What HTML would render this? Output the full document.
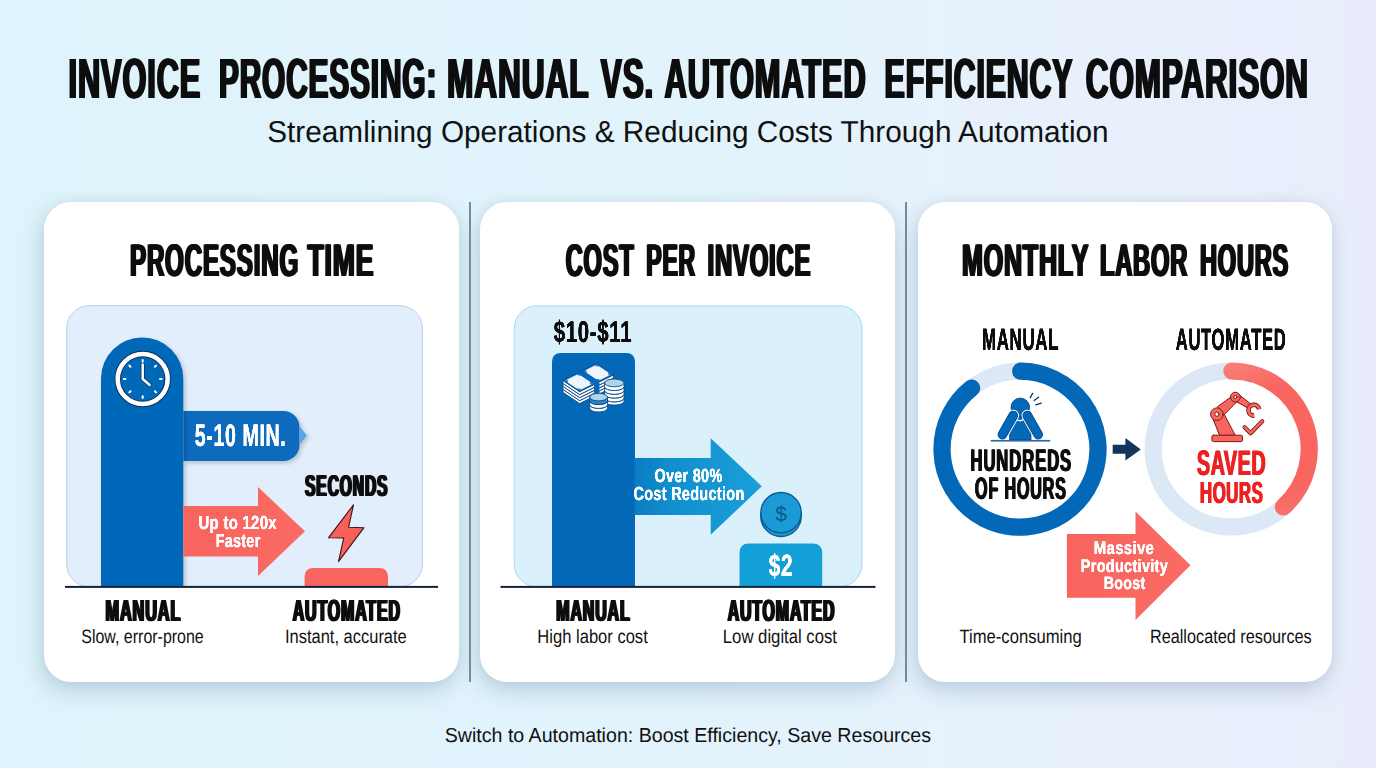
<!DOCTYPE html>
<html lang="en"><head><meta charset="utf-8"><title>Invoice Processing: Manual vs. Automated Efficiency Comparison</title>
<style>
html,body{margin:0;padding:0;}
body{width:1376px;height:768px;overflow:hidden;position:relative;font-family:"Liberation Sans",sans-serif;
background:linear-gradient(90deg,#def3fb 0%,#e2f3fc 50%,#e7f1fc 75%,#e9edfb 100%);}
.card{position:absolute;top:202px;height:480px;background:#fff;border-radius:27px;
box-shadow:-2px 9px 22px rgba(105,140,165,.33), 0 0 8px rgba(105,140,165,.10);}
.div{position:absolute;top:202px;height:480px;width:1.4px;background:#718b9f;}
svg{position:absolute;left:0;top:0;}
svg text{font-family:"Liberation Sans",sans-serif;text-rendering:geometricPrecision;}
</style></head><body>
<div class="card" style="left:44px;width:414.5px"></div>
<div class="card" style="left:480.4px;width:414.8px"></div>
<div class="card" style="left:917.5px;width:414.5px"></div>
<div class="div" style="left:469.2px"></div>
<div class="div" style="left:905.4px"></div>
<svg width="1376" height="768" viewBox="0 0 1376 768">
<clipPath id="c1"><rect x="0" y="0" width="1376" height="586.5"/></clipPath>
<defs><filter id="fat25" x="-5%" y="-10%" width="110%" height="120%"><feOffset dx="-0.25" result="a"/><feOffset in="SourceGraphic" dx="0.25" result="b"/><feMerge><feMergeNode in="a"/><feMergeNode in="b"/><feMergeNode in="SourceGraphic"/></feMerge></filter><filter id="fat35" x="-5%" y="-10%" width="110%" height="120%"><feOffset dx="-0.35" result="a"/><feOffset in="SourceGraphic" dx="0.35" result="b"/><feMerge><feMergeNode in="a"/><feMergeNode in="b"/><feMergeNode in="SourceGraphic"/></feMerge></filter><filter id="fat42" x="-5%" y="-10%" width="110%" height="120%"><feOffset dx="-0.42" result="a"/><feOffset in="SourceGraphic" dx="0.42" result="b"/><feMerge><feMergeNode in="a"/><feMergeNode in="b"/><feMergeNode in="SourceGraphic"/></feMerge></filter><filter id="fat50" x="-5%" y="-10%" width="110%" height="120%"><feOffset dx="-0.5" result="a"/><feOffset in="SourceGraphic" dx="0.5" result="b"/><feMerge><feMergeNode in="a"/><feMergeNode in="b"/><feMergeNode in="SourceGraphic"/></feMerge></filter><filter id="fat55" x="-5%" y="-10%" width="110%" height="120%"><feOffset dx="-0.55" result="a"/><feOffset in="SourceGraphic" dx="0.55" result="b"/><feMerge><feMergeNode in="a"/><feMergeNode in="b"/><feMergeNode in="SourceGraphic"/></feMerge></filter><filter id="fat95" x="-5%" y="-10%" width="110%" height="120%"><feOffset dx="-0.95" result="a"/><feOffset in="SourceGraphic" dx="0.95" result="b"/><feMerge><feMergeNode in="a"/><feMergeNode in="b"/><feMergeNode in="SourceGraphic"/></feMerge></filter><filter id="fat140" x="-5%" y="-10%" width="110%" height="120%"><feOffset dx="-1.4" result="a"/><feOffset in="SourceGraphic" dx="1.4" result="b"/><feMerge><feMergeNode in="a"/><feMergeNode in="b"/><feMergeNode in="SourceGraphic"/></feMerge></filter></defs>
<defs>
<linearGradient id="gBlue" x1="0" y1="0" x2="1" y2="0"><stop offset="0" stop-color="#0c6bbb"/><stop offset="1" stop-color="#1170c0"/></linearGradient>
<linearGradient id="gArrowB" x1="0" y1="0" x2="1" y2="0"><stop offset="0" stop-color="#0a7cc3"/><stop offset="0.3" stop-color="#128fce"/><stop offset="1" stop-color="#1a9fda"/></linearGradient>
<linearGradient id="gArc" gradientUnits="userSpaceOnUse" x1="1231" y1="362" x2="1300" y2="520"><stop offset="0" stop-color="#fa7f79"/><stop offset="0.25" stop-color="#f8665f"/><stop offset="0.8" stop-color="#f8665f"/><stop offset="1" stop-color="#fa7670"/></linearGradient>
<linearGradient id="gRed" x1="0" y1="0" x2="1" y2="0"><stop offset="0" stop-color="#f8645e"/><stop offset="1" stop-color="#fb6a64"/></linearGradient>
<filter id="sh" x="-20%" y="-20%" width="150%" height="150%"><feGaussianBlur in="SourceAlpha" stdDeviation="2.2"/><feOffset dx="1.5" dy="2"/><feComponentTransfer><feFuncA type="linear" slope="0.2"/></feComponentTransfer><feMerge><feMergeNode/><feMergeNode in="SourceGraphic"/></feMerge></filter>
</defs>
<text x="68.50" y="98.0" font-size="56.69" font-weight="bold" fill="#0a0a0a" textLength="132.62" lengthAdjust="spacingAndGlyphs" filter="url(#fat140)" letter-spacing="1.59">INVOICE</text>
<text x="218.91" y="98.0" font-size="56.69" font-weight="bold" fill="#0a0a0a" textLength="218.32" lengthAdjust="spacingAndGlyphs" filter="url(#fat140)" letter-spacing="1.64">PROCESSING:</text>
<text x="446.95" y="98.0" font-size="56.69" font-weight="bold" fill="#0a0a0a" textLength="142.47" lengthAdjust="spacingAndGlyphs" filter="url(#fat140)" letter-spacing="1.54">MANUAL</text>
<text x="600.78" y="98.0" font-size="56.69" font-weight="bold" fill="#0a0a0a" textLength="53.41" lengthAdjust="spacingAndGlyphs" filter="url(#fat140)" letter-spacing="1.60">VS.</text>
<text x="664.59" y="98.0" font-size="56.69" font-weight="bold" fill="#0a0a0a" textLength="201.99" lengthAdjust="spacingAndGlyphs" filter="url(#fat140)" letter-spacing="1.57">AUTOMATED</text>
<text x="884.59" y="98.0" font-size="56.69" font-weight="bold" fill="#0a0a0a" textLength="188.82" lengthAdjust="spacingAndGlyphs" filter="url(#fat140)" letter-spacing="1.60">EFFICIENCY</text>
<text x="1085.81" y="98.0" font-size="56.69" font-weight="bold" fill="#0a0a0a" textLength="223.16" lengthAdjust="spacingAndGlyphs" filter="url(#fat140)" letter-spacing="1.54">COMPARISON</text>
<text x="267.26" y="142.0" font-size="30.23" font-weight="normal" fill="#111" textLength="841.35" lengthAdjust="spacingAndGlyphs">Streamlining Operations &amp; Reducing Costs Through Automation</text>
<text x="129.98" y="276.0" font-size="45.93" font-weight="bold" fill="#0a0a0a" textLength="169.03" lengthAdjust="spacingAndGlyphs" filter="url(#fat95)" letter-spacing="1.47">PROCESSING</text>
<text x="307.56" y="276.0" font-size="45.93" font-weight="bold" fill="#0a0a0a" textLength="66.59" lengthAdjust="spacingAndGlyphs" filter="url(#fat95)" letter-spacing="1.33">TIME</text>
<text x="565.77" y="276.0" font-size="45.93" font-weight="bold" fill="#0a0a0a" textLength="68.75" lengthAdjust="spacingAndGlyphs" filter="url(#fat95)" letter-spacing="1.50">COST</text>
<text x="646.32" y="276.0" font-size="45.93" font-weight="bold" fill="#0a0a0a" textLength="49.70" lengthAdjust="spacingAndGlyphs" filter="url(#fat95)" letter-spacing="1.56">PER</text>
<text x="707.53" y="276.0" font-size="45.93" font-weight="bold" fill="#0a0a0a" textLength="103.73" lengthAdjust="spacingAndGlyphs" filter="url(#fat95)" letter-spacing="1.50">INVOICE</text>
<text x="962.04" y="276.0" font-size="45.93" font-weight="bold" fill="#0a0a0a" textLength="127.10" lengthAdjust="spacingAndGlyphs" filter="url(#fat95)" letter-spacing="1.41">MONTHLY</text>
<text x="1099.88" y="276.0" font-size="45.93" font-weight="bold" fill="#0a0a0a" textLength="88.16" lengthAdjust="spacingAndGlyphs" filter="url(#fat95)" letter-spacing="1.50">LABOR</text>
<text x="1199.95" y="276.0" font-size="45.93" font-weight="bold" fill="#0a0a0a" textLength="89.18" lengthAdjust="spacingAndGlyphs" filter="url(#fat95)" letter-spacing="1.52">HOURS</text>
<rect x="66.7" y="305.7" width="355.8" height="281" rx="22.5" fill="#e2eefb" stroke="#b2cbe7" stroke-width="0.9"/>
<g filter="url(#sh)">
<path d="M183.3 411 H283.5 A16 16 0 0 1 299.5 427 V445 A16 16 0 0 1 283.5 461 H183.3 Z" fill="#0a6bbc"/>
<path d="M299 425.5 L306.8 435.5 L299 445.5 Z" fill="#5aa3de"/>
</g>
<g clip-path="url(#c1)"><path d="M101 600 V378.6 A41.15 41.15 0 0 1 183.3 378.6 V600 Z" fill="#0468b9" filter="url(#sh)"/></g>
<g transform="translate(142.7 379)">
<circle r="25" fill="none" stroke="#0a2f5c" stroke-width="6.4"/>
<circle r="25" fill="none" stroke="#fff" stroke-width="4.6"/>
<path d="M0 -14.5 V0 L7 6" fill="none" stroke="#0a2f5c" stroke-width="4" stroke-linecap="round" stroke-linejoin="round"/>
<path d="M0 -14.5 V0 L7 6" fill="none" stroke="#fff" stroke-width="2.5" stroke-linecap="round" stroke-linejoin="round"/>
<line x1="0.00" y1="-17.30" x2="0.00" y2="-18.90" stroke="#fff" stroke-width="2" stroke-linecap="round"/>
<line x1="12.23" y1="-12.23" x2="13.36" y2="-13.36" stroke="#fff" stroke-width="2" stroke-linecap="round"/>
<line x1="17.30" y1="-0.00" x2="18.90" y2="-0.00" stroke="#fff" stroke-width="2" stroke-linecap="round"/>
<line x1="12.23" y1="12.23" x2="13.36" y2="13.36" stroke="#fff" stroke-width="2" stroke-linecap="round"/>
<line x1="0.00" y1="17.30" x2="0.00" y2="18.90" stroke="#fff" stroke-width="2" stroke-linecap="round"/>
<line x1="-12.23" y1="12.23" x2="-13.36" y2="13.36" stroke="#fff" stroke-width="2" stroke-linecap="round"/>
<line x1="-17.30" y1="0.00" x2="-18.90" y2="0.00" stroke="#fff" stroke-width="2" stroke-linecap="round"/>
<line x1="-12.23" y1="-12.23" x2="-13.36" y2="-13.36" stroke="#fff" stroke-width="2" stroke-linecap="round"/>
</g>
<text x="194.85" y="446.0" font-size="31.10" font-weight="bold" fill="#fff" textLength="91.36" lengthAdjust="spacingAndGlyphs" filter="url(#fat35)" letter-spacing="0.90">5-10 MIN.</text>
<path d="M183.3 506 H258 V487 L305 531.3 L258 576 V556.5 H183.3 Z" fill="url(#gRed)"/>
<text x="198.56" y="529.0" font-size="18.90" font-weight="bold" fill="#fff" textLength="78.26" lengthAdjust="spacingAndGlyphs" filter="url(#fat25)" letter-spacing="0.39">Up to 120x</text>
<text x="215.64" y="547.0" font-size="18.75" font-weight="bold" fill="#fff" textLength="44.91" lengthAdjust="spacingAndGlyphs" filter="url(#fat25)" letter-spacing="0.40">Faster</text>
<text x="305.07" y="496.0" font-size="30.23" font-weight="bold" fill="#0a0a0a" textLength="83.27" lengthAdjust="spacingAndGlyphs" filter="url(#fat55)" letter-spacing="1.71">SECONDS</text>
<path d="M353.5 504.8 L348.6 527.2 L364 527.7 L338.5 561.6 L343.7 538 L328.4 537.8 Z" fill="#f8605a" stroke="#3a1414" stroke-width="1.1" stroke-linejoin="round"/>
<path d="M304.6 586.5 V577 Q304.6 568 313.6 568 H379 Q388 568 388 577 V586.5 Z" fill="#f8655f"/>
<rect x="65" y="585.9" width="373" height="2" fill="#12243d"/>
<text x="105.54" y="621.0" font-size="30.67" font-weight="bold" fill="#0a0a0a" textLength="75.78" lengthAdjust="spacingAndGlyphs" filter="url(#fat55)" letter-spacing="1.67">MANUAL</text>
<text x="292.63" y="621.0" font-size="30.67" font-weight="bold" fill="#0a0a0a" textLength="108.26" lengthAdjust="spacingAndGlyphs" filter="url(#fat55)" letter-spacing="1.70">AUTOMATED</text>
<text x="81.28" y="643.0" font-size="19.33" font-weight="normal" fill="#111" textLength="122.48" lengthAdjust="spacingAndGlyphs">Slow, error-prone</text>
<text x="284.91" y="643.0" font-size="19.33" font-weight="normal" fill="#111" textLength="121.89" lengthAdjust="spacingAndGlyphs">Instant, accurate</text>
<rect x="514.2" y="305.9" width="347.8" height="280.8" rx="22.5" fill="#daf1fb" stroke="#a3d4ea" stroke-width="0.9"/>
<text x="553.71" y="342.0" font-size="29.94" font-weight="bold" fill="#0a0a0a" textLength="78.55" lengthAdjust="spacingAndGlyphs" filter="url(#fat42)" letter-spacing="0.99">$10-$11</text>
<path d="M552 586.5 V362 Q552 353 561 353 H626 Q635 353 635 362 V586.5 Z" fill="#0468b9"/>
<path d="M634.5 458 H710.7 V438.3 L761.8 486.3 L710.7 534.8 V515 H634.5 Z" fill="url(#gArrowB)"/>
<text x="654.49" y="482.0" font-size="19.04" font-weight="bold" fill="#fff" textLength="68.05" lengthAdjust="spacingAndGlyphs" filter="url(#fat25)" letter-spacing="0.40">Over 80%</text>
<text x="633.46" y="500.0" font-size="18.90" font-weight="bold" fill="#fff" textLength="111.11" lengthAdjust="spacingAndGlyphs" filter="url(#fat25)" letter-spacing="0.40">Cost Reduction</text>
<path d="M739.5 586.5 V553 Q739.5 543.4 749 543.4 H812.7 Q822.2 543.4 822.2 553 V586.5 Z" fill="#12a0d7"/>
<text x="768.78" y="576.0" font-size="30.81" font-weight="bold" fill="#fff" textLength="24.48" lengthAdjust="spacingAndGlyphs" filter="url(#fat42)" letter-spacing="1.06">$2</text>
<g stroke="#0b5a8f" stroke-width="1.3" fill="#1c9ad6">
<path d="M760.8 512.7 V516.5 A20.2 20 0 0 0 801.2 516.5 V512.7 Z"/>
<circle cx="781" cy="512.7" r="20.2"/>
</g>
<text x="781" y="520.6" font-size="21" text-anchor="middle" fill="#0b5a8f" font-weight="normal">$</text>
<rect x="500.5" y="585.9" width="375" height="2" fill="#12243d"/>
<text x="556.24" y="621.0" font-size="30.67" font-weight="bold" fill="#0a0a0a" textLength="74.34" lengthAdjust="spacingAndGlyphs" filter="url(#fat55)" letter-spacing="1.69">MANUAL</text>
<text x="727.63" y="621.0" font-size="30.67" font-weight="bold" fill="#0a0a0a" textLength="107.77" lengthAdjust="spacingAndGlyphs" filter="url(#fat55)" letter-spacing="1.71">AUTOMATED</text>
<text x="537.36" y="643.0" font-size="19.33" font-weight="normal" fill="#111" textLength="110.39" lengthAdjust="spacingAndGlyphs">High labor cost</text>
<text x="722.82" y="643.0" font-size="19.33" font-weight="normal" fill="#111" textLength="114.20" lengthAdjust="spacingAndGlyphs">Low digital cost</text>
<text x="981.92" y="350.0" font-size="30.81" font-weight="bold" fill="#0a0a0a" textLength="77.32" lengthAdjust="spacingAndGlyphs" filter="url(#fat42)" letter-spacing="1.25">MANUAL</text>
<text x="1175.69" y="350.0" font-size="30.81" font-weight="bold" fill="#0a0a0a" textLength="110.83" lengthAdjust="spacingAndGlyphs" filter="url(#fat42)" letter-spacing="1.27">AUTOMATED</text>
<circle cx="1020" cy="449.2" r="78" fill="none" stroke="#dde8f7" stroke-width="17.2"/>
<path d="M1020.68 371.20 A78 78 0 1 1 971.66 387.99" fill="none" stroke="#0468b9" stroke-width="17.2" stroke-linecap="round"/>
<circle cx="1231.2" cy="449" r="78" fill="none" stroke="#dde8f7" stroke-width="17.2"/>
<path d="M1231.88 371.00 A78 78 0 0 1 1283.39 506.97" fill="none" stroke="url(#gArc)" stroke-width="17.2" stroke-linecap="round"/>
<path d="M1112.7 444.8 H1125.4 V438.1 L1140.8 449.4 L1125.4 460.6 V453.8 H1112.7 Z" fill="#13355c"/>
<text x="970.00" y="471.0" font-size="31.10" font-weight="bold" fill="#0a0a0a" textLength="101.63" lengthAdjust="spacingAndGlyphs" filter="url(#fat50)" letter-spacing="1.50">HUNDREDS</text>
<text x="974.50" y="499.0" font-size="31.10" font-weight="bold" fill="#0a0a0a" textLength="91.96" lengthAdjust="spacingAndGlyphs" filter="url(#fat50)" letter-spacing="1.55">OF HOURS</text>
<text x="1196.54" y="475.0" font-size="35.32" font-weight="bold" fill="#ec2320" textLength="69.14" lengthAdjust="spacingAndGlyphs" filter="url(#fat50)" letter-spacing="0.92">SAVED</text>
<text x="1199.51" y="503.0" font-size="30.52" font-weight="bold" fill="#ec2320" textLength="63.49" lengthAdjust="spacingAndGlyphs" filter="url(#fat50)" letter-spacing="0.93">HOURS</text>
<path d="M1066.9 533.9 H1135.5 V511.5 L1190.5 565.2 L1135.5 619.9 V597.7 H1066.9 Z" fill="url(#gRed)"/>
<text x="1093.81" y="554.0" font-size="18.02" font-weight="bold" fill="#fff" textLength="60.43" lengthAdjust="spacingAndGlyphs" filter="url(#fat25)" letter-spacing="0.37">Massive</text>
<text x="1080.75" y="572.0" font-size="18.02" font-weight="bold" fill="#fff" textLength="87.30" lengthAdjust="spacingAndGlyphs" filter="url(#fat25)" letter-spacing="0.38">Productivity</text>
<text x="1103.75" y="589.0" font-size="17.73" font-weight="bold" fill="#fff" textLength="41.69" lengthAdjust="spacingAndGlyphs" filter="url(#fat25)" letter-spacing="0.38">Boost</text>
<text x="959.48" y="643.0" font-size="19.33" font-weight="normal" fill="#111" textLength="122.33" lengthAdjust="spacingAndGlyphs">Time-consuming</text>
<text x="1149.90" y="643.0" font-size="19.33" font-weight="normal" fill="#111" textLength="161.85" lengthAdjust="spacingAndGlyphs">Reallocated resources</text>
<text x="444.71" y="742.0" font-size="20.20" font-weight="normal" fill="#111" textLength="486.38" lengthAdjust="spacingAndGlyphs">Switch to Automation: Boost Efficiency, Save Resources</text>
<!-- money icon (panel 2) -->
<g stroke="#0a4a86" stroke-width="0.9" stroke-linejoin="round">
  <!-- bill stack sides (4 layers) -->
  <g fill="#fff">
    <path d="M563 389.4 L579.6 400.6 L613.4 384 L613.4 387 L579.6 403.6 L563 392.4 Z"/>
    <path d="M563 386.4 L579.6 397.6 L613.4 381 L613.4 384 L579.6 400.6 L563 389.4 Z"/>
    <path d="M563 383.4 L579.6 394.6 L613.4 378 L613.4 381 L579.6 397.6 L563 386.4 Z"/>
    <path d="M563 380.4 L579.6 391.6 L613.4 375 L613.4 378 L579.6 394.6 L563 383.4 Z"/>
  </g>
  <!-- top face -->
  <path d="M563.0 380.4 L596.5 363.4 L613.1 374.6 L579.6 391.6 Z" fill="#2d83c9"/>
  <path d="M566.8 379.8 L576.9 374.7 L578.2 375.6 L581.2 375.7 L590.2 381.7 L589.8 383.5 L591.2 384.4 L581.1 389.5 L579.8 388.6 L576.8 388.5 L567.8 382.5 L568.2 380.7 Z" fill="#eef5fb" stroke="none"/>
  <path d="M585.6 370.3 L595.0 365.5 L596.3 366.4 L599.3 366.5 L608.3 372.5 L607.9 374.3 L609.3 375.2 L599.9 379.9 L598.6 379.0 L595.5 379.0 L586.6 372.9 L586.9 371.2 Z" fill="#eef5fb" stroke="none"/>
  <!-- band -->
  <path d="M577.4 373.1 L582.8 370.4 L599.4 381.6 L599.4 393.6 L594.0 396.3 L594.0 384.3 Z" fill="#0468b9" stroke="none"/>
  <!-- coin stack right -->
  <g fill="#fff">
    <path d="M604.6 398.1 V401.3 A9.7 3.8 0 0 0 624 401.3 V398.1 A9.7 3.8 0 0 1 604.6 398.1 Z"/>
    <path d="M604.6 394.3 V398.1 A9.7 3.8 0 0 0 624 398.1 V394.3 A9.7 3.8 0 0 1 604.6 394.3 Z"/>
    <path d="M604.6 390.5 V394.3 A9.7 3.8 0 0 0 624 394.3 V390.5 A9.7 3.8 0 0 1 604.6 390.5 Z"/>
    <path d="M604.6 386.7 V390.5 A9.7 3.8 0 0 0 624 390.5 V386.7 A9.7 3.8 0 0 1 604.6 386.7 Z"/>
    <path d="M604.6 382.9 V386.7 A9.7 3.8 0 0 0 624 386.7 V382.9 Z"/>
  </g>
  <ellipse cx="614.3" cy="382.9" rx="9.7" ry="3.9" fill="#aed3ea"/>
  <!-- coin stack front -->
  <g fill="#fff">
    <path d="M589.7 404.7 V408.3 A8.9 3.7 0 0 0 607.5 408.3 V404.7 A8.9 3.7 0 0 1 589.7 404.7 Z"/>
    <path d="M589.7 400.9 V404.7 A8.9 3.7 0 0 0 607.5 404.7 V400.9 A8.9 3.7 0 0 1 589.7 400.9 Z"/>
    <path d="M589.7 397.1 V400.9 A8.9 3.7 0 0 0 607.5 400.9 V397.1 Z" fill="#2d83c9"/>
  </g>
  <ellipse cx="598.6" cy="397.1" rx="8.9" ry="3.8" fill="#aed3ea"/>
</g>

<!-- stressed person icon (panel 3, manual ring) -->
<g>
  <path d="M1009.6 440 V423 Q1009.6 414 1020.3 414 Q1031 414 1031 423 V440 Z" fill="#0468b9" stroke="#0a3f7a" stroke-width="0.8"/>
  <circle cx="1020.3" cy="407.4" r="9.3" fill="#0468b9" stroke="#0a3f7a" stroke-width="0.8"/>
  <path d="M1013.5 417.6 Q1020.3 423.8 1027.1 417.6" fill="none" stroke="#fff" stroke-width="1.3"/>
  <!-- arms -->
  <g stroke-linecap="round">
    <line x1="1013.3" y1="415.5" x2="1002.4" y2="434.6" stroke="#fff" stroke-width="11.6"/>
    <line x1="1027.3" y1="415.5" x2="1038.2" y2="434.6" stroke="#fff" stroke-width="11.6"/>
    <line x1="1013.3" y1="415.5" x2="1002.4" y2="434.6" stroke="#0a3f7a" stroke-width="9.6"/>
    <line x1="1027.3" y1="415.5" x2="1038.2" y2="434.6" stroke="#0a3f7a" stroke-width="9.6"/>
    <line x1="1013.3" y1="415.5" x2="1002.4" y2="434.6" stroke="#0468b9" stroke-width="8.2"/>
    <line x1="1027.3" y1="415.5" x2="1038.2" y2="434.6" stroke="#0468b9" stroke-width="8.2"/>
  </g>
  <rect x="990.8" y="439.9" width="59.4" height="1.7" fill="#2a6ba6"/>
  <g stroke="#12335c" stroke-width="1.3" stroke-linecap="round">
    <line x1="1030.2" y1="397.6" x2="1032.7" y2="393.4"/>
    <line x1="1034.2" y1="400.6" x2="1038.6" y2="397.2"/>
    <line x1="1035.8" y1="404.8" x2="1041.2" y2="403.2"/>
  </g>
</g>

<!-- robot arm icon (panel 3, automated ring) -->
<g fill="#f8655f" stroke="#7f1616" stroke-width="1" stroke-linejoin="round" stroke-linecap="round">
  <!-- lower arm -->
  <path d="M1213.2 419.5 L1219.6 435.4 H1235.3 L1223 412 Z"/>
  <!-- upper arm -->
  <path d="M1217.6 406.6 L1230.6 397.2 L1236 402.6 L1223.6 415.2 Z"/>
  <!-- forearm -->
  <path d="M1238.8 394.6 L1251.4 404.4 L1248.6 408.4 L1236 401.4 Z"/>
  <!-- claw -->
  <path d="M1259.2 409.2 A5.4 5.4 0 1 0 1254.2 415.6" fill="none" stroke="#7f1616" stroke-width="4.6" stroke-linecap="butt"/>
  <path d="M1259.2 409.2 A5.4 5.4 0 1 0 1254.2 415.6" fill="none" stroke="#f8655f" stroke-width="2.8" stroke-linecap="butt"/>
  <!-- joints -->
  <circle cx="1216.9" cy="414.2" r="6.3"/>
  <circle cx="1216.9" cy="414.2" r="2.1" fill="#fff"/>
  <circle cx="1235.4" cy="397.1" r="4.9"/>
  <circle cx="1235.4" cy="397.1" r="1.6" fill="#fff"/>
  <!-- base -->
  <rect x="1211.9" y="435.2" width="30.6" height="6.4" rx="1.6"/>
</g>
<path d="M1244.6 427.2 L1250.6 433.2 L1262.2 421.2" fill="none" stroke="#7f1616" stroke-width="4.2" stroke-linejoin="round" stroke-linecap="round"/>
<path d="M1244.6 427.2 L1250.6 433.2 L1262.2 421.2" fill="none" stroke="#f8655f" stroke-width="2.5" stroke-linejoin="round" stroke-linecap="round"/>

</svg>
</body></html>
